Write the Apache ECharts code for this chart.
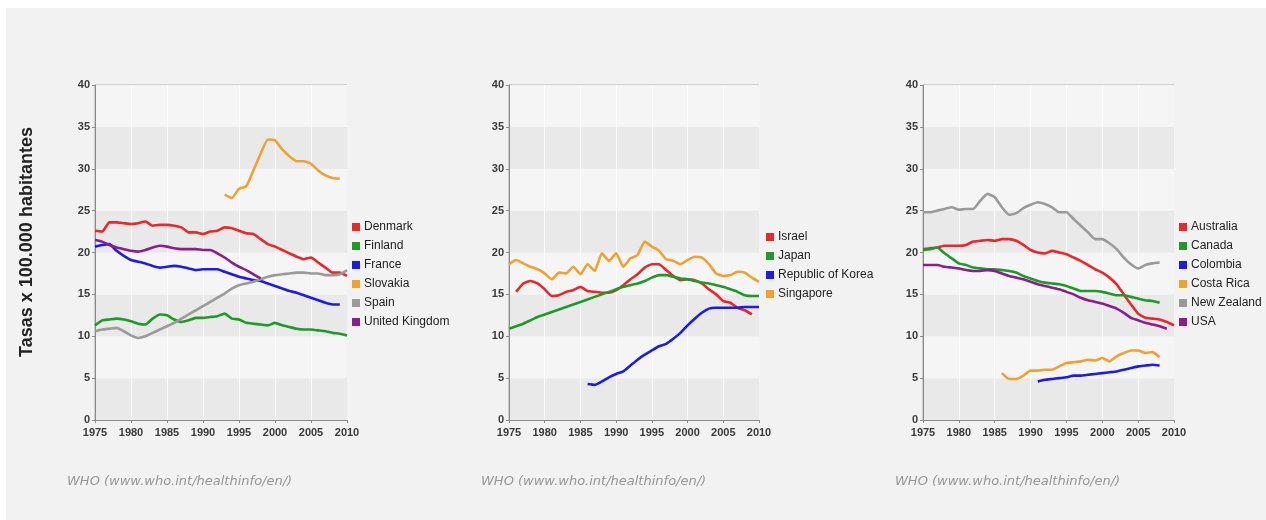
<!DOCTYPE html>
<html>
<head>
<meta charset="utf-8">
<script src="https://cdn.jsdelivr.net/npm/echarts@6/dist/echarts.min.js"></script>
<style>
  html, body { margin: 0; padding: 0; background: #ffffff; }
  #wrap { position: relative; width: 1266px; height: 520px; overflow: hidden; }
  #panel { position: absolute; left: 6px; top: 8px; right: 0; bottom: 0; background: #f2f2f2; }
  #chart { position: absolute; left: 0; top: 0; width: 1266px; height: 520px; }
</style>
</head>
<body>
<div id="wrap"><div id="panel"></div><div id="chart"></div></div>
<script>
// Suicide rates per 100,000 inhabitants, yearly values; each series starts at its own first year.
const yTicks = [0, 5, 10, 15, 20, 25, 30, 35, 40];
const xTicks = [1975, 1980, 1985, 1990, 1995, 2000, 2005, 2010];

// Panel 1 — Europe
const europeNames = ['Denmark', 'Finland', 'France', 'Slovakia', 'Spain', 'United Kingdom'];
const europeStart = [1975, 1975, 1975, 1993, 1975, 1975];
const denmark = [22.6,22.5,23.6,23.6,23.5,23.4,23.5,23.7,23.2,23.3,23.3,23.2,23.0,22.4,22.4,22.2,22.5,22.6,23.0,22.9,22.6,22.3,22.2,21.6,21.0,20.7,20.3,19.9,19.5,19.2,19.4,18.8,18.2,17.6,17.6,17.2];
const finland = [11.3,11.9,12.0,12.1,12.0,11.8,11.5,11.4,12.1,12.6,12.5,12.0,11.7,11.9,12.2,12.2,12.3,12.4,12.7,12.1,12.0,11.6,11.5,11.4,11.3,11.6,11.3,11.1,10.9,10.8,10.8,10.7,10.6,10.4,10.3,10.1];
const france = [20.7,20.9,21.0,20.2,19.6,19.1,18.9,18.7,18.4,18.2,18.3,18.4,18.3,18.1,17.9,18.0,18.0,18.0,17.7,17.4,17.1,16.9,16.7,16.6,16.3,16.0,15.7,15.4,15.2,14.9,14.6,14.3,14.0,13.8,13.8];
const slovakia = [26.9,26.5,27.6,27.9,29.8,31.8,33.5,33.4,32.3,31.5,30.9,30.9,30.6,29.8,29.2,28.9,28.8];
const spain = [10.6,10.8,10.9,11.0,10.6,10.1,9.8,10.0,10.4,10.8,11.2,11.6,12.1,12.6,13.1,13.6,14.1,14.6,15.1,15.7,16.1,16.3,16.5,16.8,17.1,17.3,17.4,17.5,17.6,17.6,17.5,17.5,17.3,17.3,17.4,17.9];
const unitedKingdom = [21.5,21.3,20.9,20.6,20.4,20.2,20.1,20.3,20.6,20.8,20.7,20.5,20.4,20.4,20.4,20.3,20.3,19.9,19.4,18.8,18.3,17.9,17.4,16.9];

// Panel 2 — Asia
const asiaNames = ['Israel', 'Japan', 'Republic of Korea', 'Singapore'];
const asiaStart = [1976, 1975, 1986, 1975];
const israel = [15.3,16.3,16.6,16.3,15.6,14.8,14.9,15.3,15.5,15.9,15.4,15.3,15.2,15.2,15.5,16.1,16.8,17.4,18.2,18.6,18.6,17.9,17.2,16.7,16.8,16.7,16.3,15.6,15.0,14.2,14.0,13.4,13.1,12.6];
const japan = [10.9,11.2,11.5,11.9,12.3,12.6,12.9,13.2,13.5,13.8,14.1,14.4,14.7,15.0,15.3,15.6,15.9,16.1,16.3,16.6,17.0,17.3,17.3,17.1,16.9,16.8,16.6,16.4,16.3,16.1,15.9,15.6,15.3,14.9,14.8,14.8];
const korea = [4.3,4.2,4.6,5.1,5.5,5.8,6.5,7.2,7.8,8.3,8.8,9.1,9.7,10.4,11.3,12.1,12.8,13.3,13.4,13.4,13.4,13.4,13.5,13.5,13.5];
const singapore = [18.6,19.1,18.7,18.3,18.0,17.5,16.8,17.6,17.5,18.3,17.4,18.6,17.8,19.9,19.0,19.9,18.3,19.3,19.7,21.3,20.7,20.2,19.2,19.0,18.6,19.1,19.5,19.4,18.6,17.5,17.2,17.3,17.7,17.6,17.0,16.5];

// Panel 3 — Americas and Oceania
const americasNames = ['Australia', 'Canada', 'Colombia', 'Costa Rica', 'New Zealand', 'USA'];
const americasStart = [1975, 1975, 1991, 1986, 1975, 1975];
const australia = [20.4,20.5,20.6,20.8,20.8,20.8,20.9,21.3,21.4,21.5,21.4,21.6,21.6,21.4,20.9,20.3,20.0,19.9,20.2,20.0,19.8,19.4,19.0,18.5,18.0,17.6,17.0,16.2,15.0,13.8,12.7,12.2,12.1,12.0,11.7,11.3];
const canada = [20.3,20.4,20.6,19.9,19.3,18.7,18.5,18.2,18.1,18.0,18.0,17.9,17.8,17.6,17.2,16.9,16.6,16.4,16.3,16.2,16.0,15.7,15.4,15.4,15.4,15.3,15.1,14.9,14.9,14.7,14.5,14.3,14.2,14.0];
const colombia = [4.6,4.8,4.9,5.0,5.1,5.3,5.3,5.4,5.5,5.6,5.7,5.8,6.0,6.2,6.4,6.5,6.6,6.5];
const costaRica = [5.6,4.9,4.9,5.3,5.9,5.9,6.0,6.0,6.4,6.8,6.9,7.0,7.2,7.1,7.4,7.0,7.6,8.0,8.3,8.3,8.0,8.1,7.5];
const newZealand = [24.8,24.8,25.0,25.2,25.4,25.1,25.2,25.2,26.2,27.0,26.6,25.4,24.5,24.7,25.3,25.7,26.0,25.8,25.4,24.8,24.8,24.0,23.2,22.4,21.6,21.6,21.1,20.4,19.4,18.6,18.1,18.5,18.7,18.8];
const usa = [18.5,18.5,18.5,18.3,18.2,18.1,17.9,17.8,17.8,17.9,17.8,17.5,17.2,17.0,16.8,16.5,16.2,16.0,15.8,15.6,15.3,15.0,14.6,14.3,14.1,13.9,13.6,13.3,12.8,12.2,11.9,11.6,11.4,11.2,10.9];

const sixColors = ['#e8282a', '#1f9a28', '#1c1ce6', '#f0a132', '#9a9a9a', '#8a1e90'];
const asiaColors = ['#e8282a', '#1f9a28', '#1c1ce6', '#f0a132'];

const panels = [
  { names: europeNames, starts: europeStart, values: [denmark, finland, france, slovakia, spain, unitedKingdom], colors: sixColors, left: 95, width: 252, legendLeft: 352, legendTop: 221 },
  { names: asiaNames, starts: asiaStart, values: [israel, japan, korea, singapore], colors: asiaColors, left: 509, width: 250, legendLeft: 766, legendTop: 231 },
  { names: americasNames, starts: americasStart, values: [australia, canada, colombia, costaRica, newZealand, usa], colors: sixColors, left: 923, width: 251, legendLeft: 1179, legendTop: 221 }
];

const tickFont = '"Liberation Sans Narrow", "Liberation Sans", Arial, sans-serif';
const textFont = '"Liberation Sans", Arial, sans-serif';

function toPairs(start, vals) {
  return vals.map((v, i) => [start + i, v]);
}

const grid = [], xAxis = [], yAxis = [], legend = [], series = [], graphic = [];

panels.forEach((p, gi) => {
  grid.push({
    left: p.left, top: 85, width: p.width, height: 335,
    show: true, borderColor: '#a9a9a9', borderWidth: 1, backgroundColor: 'transparent'
  });
  xAxis.push({
    gridIndex: gi, type: 'value', min: xTicks[0], max: xTicks[xTicks.length - 1], interval: 5,
    axisLine: { show: true, onZero: false, lineStyle: { color: '#8a8a8a', width: 1 } },
    axisTick: { show: true, length: 3, lineStyle: { color: '#8a8a8a' } },
    axisLabel: { margin: 7, fontSize: 11, fontWeight: 'bold', color: '#3a3a3a', fontFamily: tickFont,
                 formatter: v => String(v) },
    splitLine: { show: true, lineStyle: { color: 'rgba(255,255,255,0.75)', width: 1 } }
  });
  yAxis.push({
    gridIndex: gi, type: 'value', min: yTicks[0], max: yTicks[yTicks.length - 1], interval: 5,
    axisLine: { show: true, lineStyle: { color: '#8a8a8a', width: 1 } },
    axisTick: { show: true, length: 3, lineStyle: { color: '#8a8a8a' } },
    axisLabel: { margin: 5, fontSize: 11, fontWeight: 'bold', color: '#3a3a3a', fontFamily: tickFont },
    splitLine: { show: false },
    splitArea: { show: true, areaStyle: { color: ['#e9e9e9', '#f5f5f5'] } }
  });
  legend.push({
    orient: 'vertical', left: p.legendLeft, top: p.legendTop, padding: 0,
    itemWidth: 8, itemHeight: 8, itemGap: 7, icon: 'rect',
    data: p.names,
    textStyle: { fontSize: 12, color: '#222', fontFamily: textFont, padding: [0, 0, 0, -1] }
  });
  p.names.forEach((name, si) => {
    series.push({
      name: name, type: 'line', xAxisIndex: gi, yAxisIndex: gi,
      data: toPairs(p.starts[si], p.values[si]),
      showSymbol: false, symbol: 'none', smooth: 0.15,
      lineStyle: { width: 2.6, color: p.colors[si] },
      itemStyle: { color: p.colors[si] },
      emphasis: { disabled: true }, animation: false
    });
  });
  graphic.push({
    type: 'text', left: p.left - 28, top: 475,
    style: { text: 'WHO (www.who.int/healthinfo/en/)', font: 'italic 13px "DejaVu Sans", sans-serif', fill: '#969696' }
  });
});

graphic.push({
  type: 'text', x: 27, y: 242, rotation: Math.PI / 2,
  style: { text: 'Tasas x 100.000 habitantes', font: 'bold 18px "Liberation Sans", Arial, sans-serif', fill: '#222',
           align: 'center', verticalAlign: 'middle', textAlign: 'center', textVerticalAlign: 'middle' }
});

const chart = echarts.init(document.getElementById('chart'), null, { renderer: 'canvas' });
chart.setOption({
  backgroundColor: 'transparent',
  animation: false,
  grid: grid, xAxis: xAxis, yAxis: yAxis, legend: legend, series: series, graphic: graphic
});
</script>
</body>
</html>
